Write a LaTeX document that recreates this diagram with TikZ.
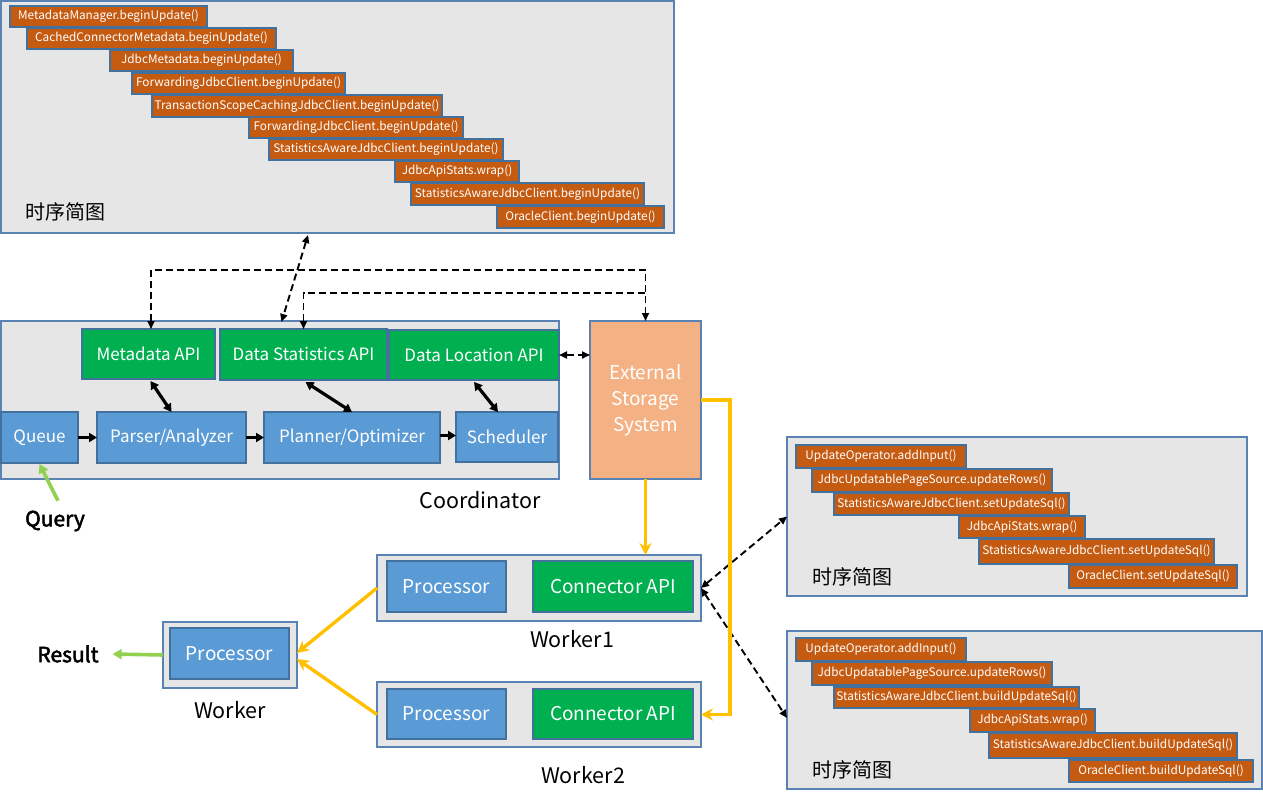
\documentclass[tikz,border=0pt]{standalone}
\usepackage{fontspec}
\setmainfont{Noto Sans CJK SC}
\newfontfamily\boldsans{Noto Sans CJK SC}[FakeBold=2.5]
\usetikzlibrary{arrows.meta}
\definecolor{panel}{HTML}{E7E6E6}
\definecolor{panelline}{HTML}{5A82B4}
\definecolor{bluebox}{HTML}{5B9BD5}
\definecolor{blueline}{HTML}{41719C}
\definecolor{greenbox}{HTML}{00B050}
\definecolor{barfill}{HTML}{C55A11}
\definecolor{extfill}{HTML}{F4B183}
\definecolor{yel}{HTML}{FFC000}
\definecolor{lgreen}{HTML}{92D050}
\newcommand\bx[7]{\node[#6,minimum width={(#4-#2)*1pt},minimum height={(#5-#3)*1pt}] (#1) at ({(#2+#4)/2},{(#3+#5)/2}) {#7};}
\tikzset{
  dtip/.tip={Triangle[length=8pt,width=7pt]},
  every node/.style={inner sep=0pt,outer sep=0pt},
  panelbox/.style={draw=panelline,fill=panel,line width=1.4pt},
  bluenode/.style={draw=blueline,fill=bluebox,line width=1.2pt,text=white,font=\fontsize{17}{19}\selectfont},
  greennode/.style={draw=blueline,fill=greenbox,line width=1.2pt,text=white,font=\fontsize{17}{19}\selectfont},
  wnode/.style={draw=blueline,line width=1.2pt,text=white,font=\fontsize{19}{22}\selectfont},
  bar/.style={draw=blueline,fill=barfill,line width=1.1pt,text=white,font=\fontsize{11.8}{13}\selectfont},
  extnode/.style={draw=panelline,fill=extfill,line width=1.4pt,text=white,align=center,font=\fontsize{19}{26}\selectfont},
  lbl/.style={text=black,font=\fontsize{21.5}{24}\selectfont},
  cjklbl/.style={text=black,font=\fontsize{20}{24}\selectfont},
  boldlbl/.style={text=black,font=\boldsans\fontsize{21}{24}\selectfont},
  solidarr/.style={line width=3.2pt,-{Triangle[length=8pt,width=9pt]}},
  solidbi/.style={line width=3.2pt,{Triangle[length=8pt,width=9pt]}-{Triangle[length=8pt,width=9pt]}},
  dasharr/.style={line width=1.9pt,dash pattern=on 7pt off 4pt},
  yarr/.style={draw=yel,line width=3.4pt,-{Stealth[length=12pt,width=12pt,inset=4pt]}},
  garr/.style={draw=lgreen,line width=3.6pt,-{Triangle[length=9pt,width=10pt]}}
}
\begin{document}
\begin{tikzpicture}[x=1pt,y=-1pt]
\useasboundingbox[fill=white] (0,0) rectangle (1263,805);

% ---------- top sequence panel ----------
\bx{top}{1}{1}{674}{233}{panelbox}{}
\bx{t1}{10}{6}{207}{27}{bar}{MetadataManager.beginUpdate()}
\bx{t2}{27}{28}{276}{49}{bar}{CachedConnectorMetadata.beginUpdate()}
\bx{t3}{110}{50}{293}{71}{bar}{JdbcMetadata.beginUpdate()}
\bx{t4}{132}{73}{345}{94}{bar}{ForwardingJdbcClient.beginUpdate()}
\bx{t5}{152}{95}{442}{117}{bar}{TransactionScopeCachingJdbcClient.beginUpdate()}
\bx{t6}{249}{117}{463}{138}{bar}{ForwardingJdbcClient.beginUpdate()}
\bx{t7}{269}{139}{503}{160}{bar}{StatisticsAwareJdbcClient.beginUpdate()}
\bx{t8}{395}{161}{519}{182}{bar}{JdbcApiStats.wrap()}
\bx{t9}{411}{183}{644}{205}{bar}{StatisticsAwareJdbcClient.beginUpdate()}
\bx{t10}{497}{206}{664}{228}{bar}{OracleClient.beginUpdate()}
\node[cjklbl] (topl) at (65,212) {时序简图};

% ---------- coordinator ----------
\bx{coord}{1}{321}{559}{479}{panelbox}{}
\bx{meta}{82}{329}{215}{379}{greennode}{Metadata API}
\bx{stats}{220}{329}{387}{380}{greennode}{Data Statistics API}
\bx{loc}{389}{330}{559}{380}{greennode}{Data Location API}
\bx{queue}{1}{412}{78}{463}{bluenode}{Queue}
\bx{parser}{97}{412}{246}{463}{bluenode}{Parser/Analyzer}
\bx{planner}{264}{412}{440}{463}{bluenode}{Planner/Optimizer}
\bx{sched}{456}{412}{558}{462}{bluenode}{Scheduler}
\node[lbl] (coordl) at (480,500) {Coordinator};
\node[boldlbl] (query) at (55,521) {Query};

\bx{ext}{590}{321}{701}{479}{extnode}{\rule{0pt}{6pt}External\\Storage\\System}

% ---------- workers ----------
\bx{worker}{163}{622}{297}{688}{panelbox}{}
\bx{wproc}{170}{628}{289}{679}{wnode,fill=bluebox}{Processor}
\node[lbl] (workerl) at (230,710) {Worker};
\node[boldlbl,inner xsep=14pt] (result) at (68,654) {Result};

\bx{w1}{377}{555}{701}{621}{panelbox}{}
\bx{w1proc}{387}{561}{506}{612}{wnode,fill=bluebox}{Processor}
\bx{w1conn}{533}{561}{693}{612}{wnode,fill=greenbox}{Connector API}
\node[lbl] (w1l) at (572,639) {Worker1};

\bx{w2}{377}{682}{701}{747}{panelbox}{}
\bx{w2proc}{387}{689}{506}{739}{wnode,fill=bluebox}{Processor}
\bx{w2conn}{533}{689}{693}{739}{wnode,fill=greenbox}{Connector API}
\node[lbl] (w2l) at (583,775) {Worker2};

% ---------- right sequence panels ----------
\bx{rb1}{787}{437}{1247}{596}{panelbox}{}
\bx{r1}{796}{445}{966}{468}{bar}{UpdateOperator.addInput()}
\bx{r2}{812}{469}{1052}{492}{bar}{JdbcUpdatablePageSource.updateRows()}
\bx{r3}{834}{493}{1069}{515}{bar}{StatisticsAwareJdbcClient.setUpdateSql()}
\bx{r4}{959}{516}{1085}{538}{bar}{JdbcApiStats.wrap()}
\bx{r5}{979}{539}{1214}{564}{bar}{StatisticsAwareJdbcClient.setUpdateSql()}
\bx{r6}{1069}{565}{1237}{588}{bar}{OracleClient.setUpdateSql()}
\node[cjklbl] (rb1l) at (852,577) {时序简图};

\bx{rb2}{787}{631}{1262}{789}{panelbox}{}
\bx{s1}{796}{638}{966}{661}{bar}{UpdateOperator.addInput()}
\bx{s2}{812}{662}{1052}{685}{bar}{JdbcUpdatablePageSource.updateRows()}
\bx{s3}{834}{687}{1079}{708}{bar}{StatisticsAwareJdbcClient.buildUpdateSql()}
\bx{s4}{970}{709}{1095}{732}{bar}{JdbcApiStats.wrap()}
\bx{s5}{989}{733}{1237}{758}{bar}{StatisticsAwareJdbcClient.buildUpdateSql()}
\bx{s6}{1069}{760}{1253}{782}{bar}{OracleClient.buildUpdateSql()}
\node[cjklbl] (rb2l) at (852,770) {时序简图};

% ---------- connectors ----------
\draw[solidarr] (queue.east) -- (parser.west);
\draw[solidarr] (parser.west -| parser.east) -- (planner.west);
\draw[solidarr] ([yshift=2pt]planner.east) -- ([yshift=2pt]planner.east -| sched.west);
\draw[solidbi] ([xshift=2pt,yshift=-2pt]meta.south) -- (parser.north);
\draw[solidbi] ([xshift=2pt,yshift=-2pt]stats.south) -- (planner.north);
\draw[solidbi] ([yshift=-2pt]loc.south) -- ([xshift=-9pt]sched.north);

\coordinate (d1) at (645.5,270);
\coordinate (d2) at (645.5,293);
\coordinate (d3) at (308,235);
\draw[dasharr,{dtip}-{dtip}] ([xshift=2.5pt]meta.north) |- (d1) -- (ext.north);
\draw[dasharr,{dtip}-] (stats.north) |- (d2);
\draw[dasharr,{dtip}-{dtip}] (d3) -- ([xshift=-22pt,yshift=7pt]stats.north);
\draw[dasharr,{dtip}-{dtip}] (loc.east) -- (loc.east -| ext.west);
\draw[dasharr,{dtip}-{dtip}] (w1.east) -- (rb1.west);
\draw[dasharr,{dtip}-{dtip}] (w1.east) -- ([yshift=-8pt]rb2.west);

\coordinate (ybend) at (730,400);
\draw[yarr] (ext.south) -- (ext.south |- w1.north);
\draw[yarr] (ext.east |- ybend) -- (ybend) |- (w2.east);
\draw[yarr] (w1.west) -- ([yshift=2pt]worker.east);
\draw[yarr] (w2.west) -- ([yshift=-4pt]worker.east);

\draw[garr] ([xshift=3pt,yshift=10pt]query.north) -- ([yshift=-1pt]queue.south);
\draw[garr] (worker.west) -- (result.east);
\end{tikzpicture}
\end{document}
